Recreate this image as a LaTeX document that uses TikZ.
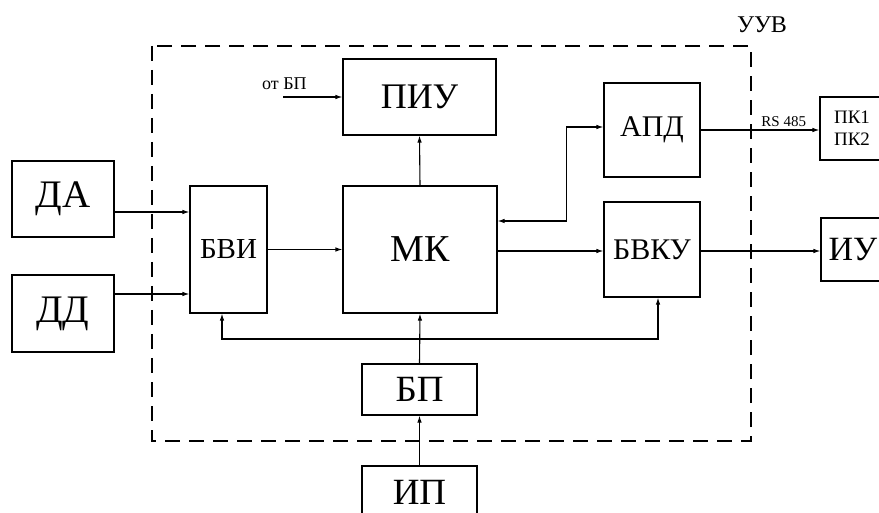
\documentclass[tikz,border=0pt]{standalone}
\usepackage{fontspec}
\setmainfont{Liberation Serif}
\usetikzlibrary{arrows.meta,calc}
\newcommand{\fs}[1]{\fontsize{#1}{#1}\selectfont}
\begin{document}
\begin{tikzpicture}[x=1pt,y=-1pt,
  box/.style={draw,line width=1.1pt,inner sep=0pt,font=\fs{36}},
  arr/.style={line width=1.1pt,-{Latex[length=7pt,width=4.5pt]}},
  arrtwo/.style={line width=1.1pt,{Latex[length=7pt,width=4.5pt]}-{Latex[length=7pt,width=4.5pt]}},
  frame/.style={line width=1.1pt,dash pattern=on 15pt off 9pt}]
\useasboundingbox (0,0) rectangle (879,513);
\clip (0,0) rectangle (879,513);
% dashed frame
\draw[frame] (152,46) rectangle (751,441);
\node[font=\fs{24}] (uuv) at (762,25) {УУВ};
% boxes
\node[box,minimum width=153pt,minimum height=76pt] (piu) at (419.5,97) {ПИУ};
\node[box,minimum width=154pt,minimum height=127pt,font=\fs{38}] (mk) at (420,249.5) {МК};
\node[box,minimum width=77pt,minimum height=127pt,font=\fs{29}] (bvi) at (228.5,249.5) {БВИ};
\node[box,minimum width=102pt,minimum height=76pt,font=\fs{39}] (da) at (63,199) {ДА};
\node[box,minimum width=102pt,minimum height=77pt,font=\fs{39}] (dd) at (63,313.5) {ДД};
\node[box,minimum width=96pt,minimum height=94pt,font=\fs{30}] (apd) at (652,130) {АПД};
\node[box,minimum width=96pt,minimum height=95pt,font=\fs{30}] (bvku) at (652,249.5) {БВКУ};
\node[box,minimum width=115pt,minimum height=51pt,font=\fs{37}] (bp) at (419.5,389.5) {БП};
\node[box,minimum width=115pt,minimum height=52pt,font=\fs{37}] (ip) at (419.5,492) {ИП};
\node[box,minimum width=64pt,minimum height=63pt,font=\fs{19},align=center] (pk) at (852,128.5) {ПК1\\[3pt]ПК2};
\node[box,minimum width=64pt,minimum height=63pt,font=\fs{34}] (iu) at (853,249.5) {ИУ};
% connectors
\coordinate (otbp) at (283,97);
\node[font=\fs{18},anchor=base west,inner sep=0pt] (otbplbl) at (262,90) {от БП};
\draw[arr] (otbp) -- (piu.west);
\draw[arr] (mk.north) -- (piu.south);
\draw[arr] ([yshift=-13pt]da.east) -- ([yshift=-13pt]da.east -| bvi.west);
\draw[arr] ([yshift=19.5pt]dd.east) -- ([yshift=19.5pt]dd.east -| bvi.west);
\draw[arr] (bvi.east) -- (mk.west);
\draw[arr] ([yshift=-1.5pt]mk.east) -- ([yshift=-1.5pt]mk.east -| bvku.west);
\draw[arr] ([yshift=-1.5pt]bvku.east) -- ([yshift=-1.5pt]bvku.east -| iu.west);
\draw[arr] (apd.east) -- (apd.east -| pk.west)
  node[pos=0.7,above,font=\fs{15},inner sep=3pt] (rs) {RS 485};
\draw[arrtwo] ([yshift=28.5pt]mk.east) -- ++(69,0) |- ([yshift=3pt]apd.west);
\draw[arr] (bp.north) -- (mk.south);
\draw[arr] (ip.north) -- (bp.south);
\coordinate (bus) at (419.5,339);
\draw[arr] (bus) -| ([xshift=-6.5pt]bvi.south);
\draw[arr] (bus) -| ([xshift=6pt]bvku.south);
\end{tikzpicture}
\end{document}
